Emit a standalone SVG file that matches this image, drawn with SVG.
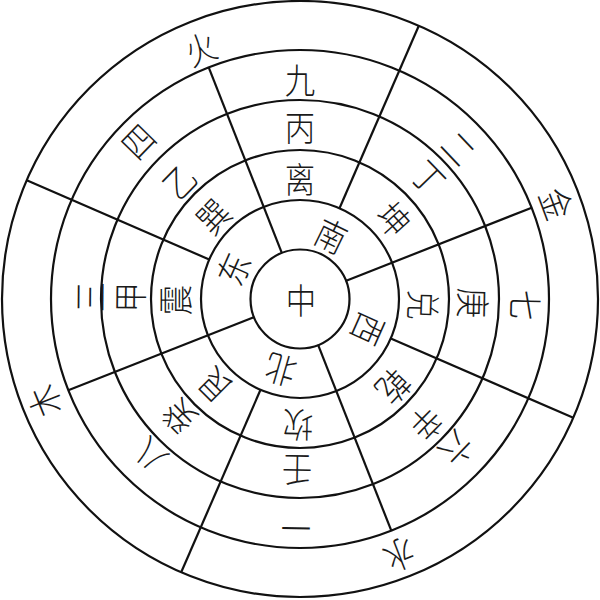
<svg xmlns="http://www.w3.org/2000/svg" width="600" height="600" viewBox="0 0 600 600">
<style>
.ring{fill:none;stroke:#111;stroke-width:2.2}
.div{stroke:#111;stroke-width:2.2;stroke-linecap:butt}
text{font-family:"Noto Sans CJK SC","Noto Sans CJK TC",sans-serif;font-size:32px;font-weight:300;fill:#1a1a1a;text-anchor:middle;dominant-baseline:central}
</style>
<rect width="600" height="600" fill="#ffffff"/>
<g id="rings">
<circle class="ring" cx="300" cy="299" r="49.5"/>
<circle class="ring" cx="300" cy="299" r="99"/>
<circle class="ring" cx="300" cy="299" r="149"/>
<circle class="ring" cx="300" cy="299" r="199"/>
<circle class="ring" cx="300" cy="299" r="249"/>
<circle class="ring" cx="300" cy="299" r="298"/>
</g>
<g id="connectors">
<line class="div" x1="390.8" y1="338.5" x2="573.3" y2="417.8"/>
<line class="div" x1="260.5" y1="389.8" x2="181.2" y2="572.3"/>
<line class="div" x1="209.2" y1="259.5" x2="26.7" y2="180.2"/>
<line class="div" x1="339.5" y1="208.2" x2="418.8" y2="25.7"/>
<line class="div" x1="318.0" y1="344.6" x2="391.3" y2="530.7"/>
<line class="div" x1="254.4" y1="317.0" x2="68.3" y2="390.3"/>
<line class="div" x1="282.0" y1="253.4" x2="208.7" y2="67.3"/>
<line class="div" x1="345.6" y1="281.0" x2="531.7" y2="207.7"/>
</g>
<g id="center"><text transform="translate(301,298) scale(0.95,1.1)">中</text></g>
<g id="directions">
<text transform="translate(332,234) rotate(26) scale(0.95,1.1)">南</text>
<text transform="translate(232,268) rotate(-66) scale(0.95,1.1)">东</text>
<text transform="translate(370,330) rotate(114) scale(0.95,1.1)">西</text>
<text transform="translate(280,372) rotate(196) scale(0.95,1.1)">北</text>
</g>
<g id="trigrams">
<text transform="translate(300,177) scale(0.95,1.1)">离</text>
<text transform="translate(395,218) rotate(48) scale(0.95,1.1)">坤</text>
<text transform="translate(425,305) rotate(92) scale(0.95,1.1)">兑</text>
<text transform="translate(395,388) rotate(133) scale(0.95,1.1)">乾</text>
<text transform="translate(298,427) rotate(181) scale(0.95,1.1)">坎</text>
<text transform="translate(213,387) rotate(225) scale(0.95,1.1)">艮</text>
<text transform="translate(173,300) rotate(270) scale(0.95,1.1)">震</text>
<text transform="translate(212,215) rotate(314) scale(0.95,1.1)">巽</text>
</g>
<g id="stems">
<text transform="translate(300,125) scale(0.95,1.1)">丙</text>
<text transform="translate(430,176) rotate(46) scale(0.95,1.1)">丁</text>
<text transform="translate(475,303) rotate(91) scale(0.95,1.1)">庚</text>
<text transform="translate(428,425) rotate(134.5) scale(0.95,1.1)">辛</text>
<text transform="translate(297,472) rotate(181) scale(0.95,1.1)">壬</text>
<text transform="translate(178,418) rotate(225.7) scale(0.95,1.1)">癸</text>
<text transform="translate(128,297) rotate(270.7) scale(0.95,1.1)">甲</text>
<text transform="translate(178,180) rotate(314.3) scale(0.95,1.1)">乙</text>
</g>
<g id="numbers">
<text transform="translate(300,78) scale(0.95,1.1)">九</text>
<text transform="translate(460,147) rotate(46.5) scale(0.95,1.1)">二</text>
<text transform="translate(527,305) rotate(91.5) scale(0.95,1.1)">七</text>
<text transform="translate(458,450) rotate(133.7) scale(0.95,1.1)">六</text>
<text transform="translate(296,530) rotate(181) scale(0.95,1.1)">一</text>
<text transform="translate(148,457) rotate(224) scale(0.95,1.1)">八</text>
<text transform="translate(88,297) rotate(270.5) scale(0.95,1.1)">三</text>
<text transform="translate(137,140) rotate(314.3) scale(0.95,1.1)">四</text>
</g>
<g id="elements">
<text transform="translate(200,47) rotate(-21.6) scale(0.95,1.1)">火</text>
<text transform="translate(558,203) rotate(69.6) scale(0.95,1.1)">金</text>
<text transform="translate(400,557) rotate(158.8) scale(0.95,1.1)">水</text>
<text transform="translate(43,402) rotate(248) scale(0.95,1.1)">木</text>
</g>
</svg>
